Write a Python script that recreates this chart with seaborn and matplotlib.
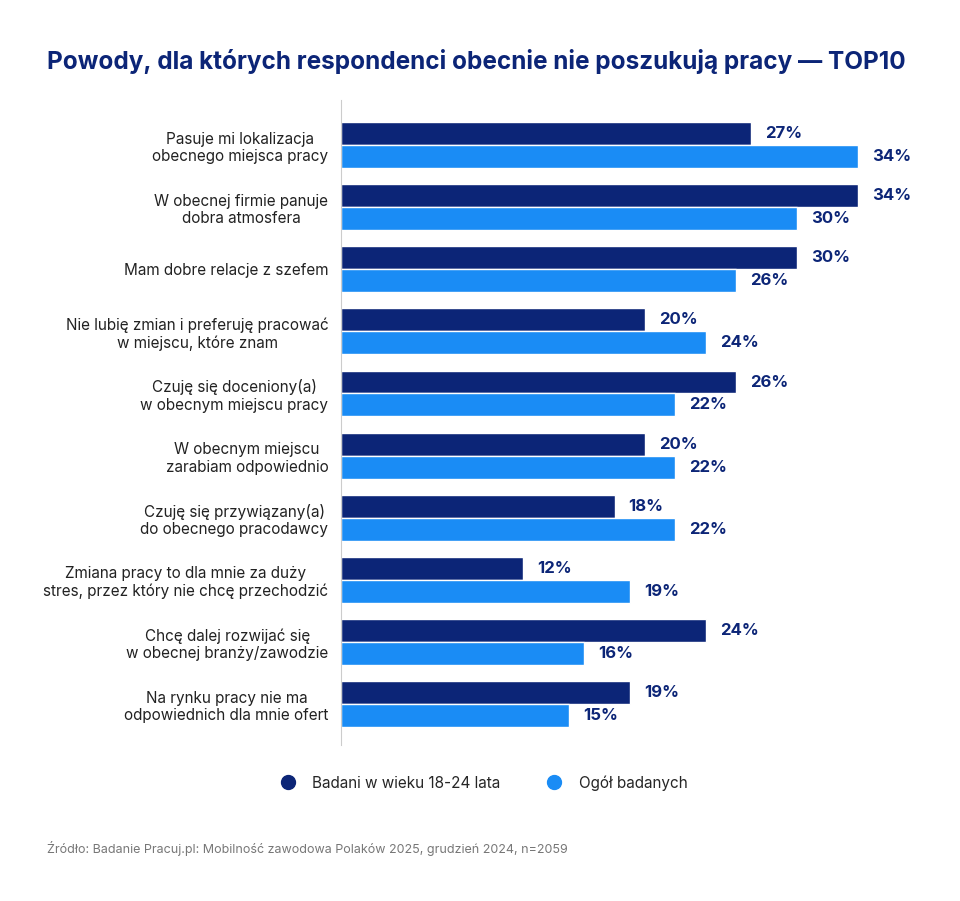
import pandas as pd
import matplotlib.pyplot as plt
from matplotlib.lines import Line2D
import seaborn as sns

reasons = [
    "Pasuje mi lokalizacja\nobecnego miejsca pracy",
    "W obecnej firmie panuje\ndobra atmosfera",
    "Mam dobre relacje z szefem",
    "Nie lubię zmian i preferuję pracować\nw miejscu, które znam",
    "Czuję się doceniony(a)\nw obecnym miejscu pracy",
    "W obecnym miejscu\nzarabiam odpowiednio",
    "Czuję się przywiązany(a)\ndo obecnego pracodawcy",
    "Zmiana pracy to dla mnie za duży\nstres, przez który nie chcę przechodzić",
    "Chcę dalej rozwijać się\nw obecnej branży/zawodzie",
    "Na rynku pracy nie ma\nodpowiednich dla mnie ofert",
]
young = [27, 34, 30, 20, 26, 20, 18, 12, 24, 19]
overall = [34, 30, 26, 24, 22, 22, 22, 19, 16, 15]
series = ["Badani w wieku 18-24 lata", "Ogół badanych"]
colors = ["#0c2577", "#1a8cf5"]
navy = "#0c2577"

df = pd.DataFrame({"reason": reasons * 2,
                   "value": young + overall,
                   "group": [series[0]] * 10 + [series[1]] * 10})

sns.set_style("white")
plt.rcParams["font.family"] = ["Inter", "DejaVu Sans"]

fig = plt.figure(figsize=(9.6, 9.01), dpi=100)
ax = fig.add_axes([341 / 960, 1 - 745 / 901, 599 / 960, 645 / 901])
sns.barplot(data=df, y="reason", x="value", hue="group", palette=colors,
            orient="h", width=0.74, ax=ax, legend=False, saturation=1)
ax.set_xlim(0, 599 / 15.2)
ax.set_ylim(9.66, -0.726)
for c in ax.containers:
    ax.bar_label(c, labels=[f"{v:.0f}%" for v in c.datavalues], padding=10,
                 color=navy, fontsize=12, fontweight="bold")
ax.set_xlabel("")
ax.set_ylabel("")
ax.set_xticks([])
ax.tick_params(axis="y", length=0, pad=9)
for t in ax.get_yticklabels():
    t.set_multialignment("center")
    t.set_fontsize(11)
    t.set_color("#222222")
for s in ["top", "right", "bottom"]:
    ax.spines[s].set_visible(False)
ax.spines["left"].set_color("#cccccc")

fig.text(47 / 960, 1 - 62 / 901, "Powody, dla których respondenci obecnie nie poszukują pracy — TOP10",
         fontsize=17.5, fontweight="bold", color=navy, va="center")
handles = [Line2D([], [], marker="o", ls="", markersize=10, color=c) for c in colors]
fig.legend(handles, series, loc="center", bbox_to_anchor=(0.5, 1 - 783 / 901),
           ncol=2, frameon=False, fontsize=11, handletextpad=0.6, columnspacing=2.5)
fig.text(47 / 960, 1 - 848 / 901,
         "Źródło: Badanie Pracuj.pl: Mobilność zawodowa Polaków 2025, grudzień 2024, n=2059",
         fontsize=9, color="#777777", va="center")

fig.savefig("out.png", dpi=100)
